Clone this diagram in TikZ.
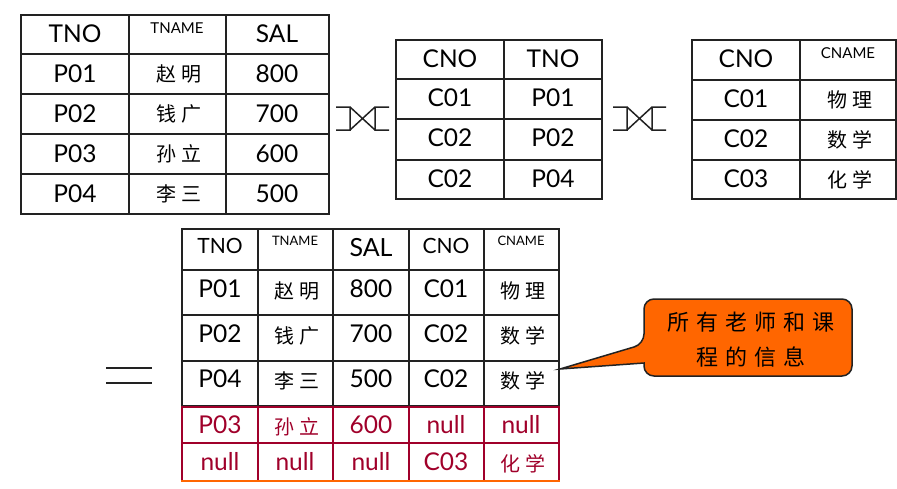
\documentclass[tikz,border=0pt]{standalone}
\usepackage{fontspec}
\setmainfont{Lato}
\newfontfamily\cjkwide[LetterSpace=25]{Noto Sans CJK SC}
\newfontfamily\cjknote[LetterSpace=32]{Noto Sans CJK SC}
\usetikzlibrary{positioning}

\definecolor{gridblack}{HTML}{222222}
\definecolor{nullred}{HTML}{A0002A}
\definecolor{noteorange}{HTML}{FF6600}

\begin{document}
\begin{tikzpicture}[x=1pt, y=-1pt,
    grid/.style={line width=2.3pt, gridblack},
    redgrid/.style={line width=2pt, nullred},
    cell/.style={font=\fontsize{24.5}{26}\selectfont, inner sep=0pt, anchor=base},
    bigcell/.style={font=\fontsize{25}{27}\selectfont, inner sep=0pt, anchor=base},
    midhead/.style={font=\fontsize{21}{23}\selectfont, inner sep=0pt, anchor=base},
    head/.style={font=\fontsize{15}{16}\selectfont, inner sep=0pt, anchor=base},
    smallhead/.style={font=\fontsize{13}{14}\selectfont, inner sep=0pt, anchor=base},
    hanzi/.style={font=\cjkwide\fontsize{20}{22}\selectfont, inner sep=0pt},
    bowtie/.pic={
        \draw[line width=1.5pt, gridblack] (0,0) -- (14,0) -- (14,23) -- (0,23)
            (14,0) -- (39,23) (14,23) -- (39,0)
            (53,0) -- (39,0) -- (39,23) -- (53,23);
    }]
\useasboundingbox (0,0) rectangle (897,488);

% Table T(TNO, TNAME, SAL)
\draw[grid] (21,15) rectangle (329,214);
\foreach \y in {54,94,134,174} \draw[grid] (21,\y) -- (329,\y);
\foreach \x in {129,226} \draw[grid] (\x,15) -- (\x,214);
\node[cell] (t-tno) at (75,42) {TNO};
\node[head] (t-tname) at (177,33) {TNAME};
\node[cell] (t-sal) at (277,42) {SAL};
\foreach \no/\name/\sal [count=\i] in {P01/赵明/800, P02/钱广/700, P03/孙立/600, P04/李三/500} {
    \node[cell] (t\i-no) at (75,42+40*\i) {\no};
    \node[hanzi] (t\i-name) at (179,34+40*\i) {\name};
    \node[cell] (t\i-sal) at (277,42+40*\i) {\sal};
}

% join symbols
\pic (join1) at (336,107) {bowtie};
\pic (join2) at (613,107) {bowtie};

% Table SC(CNO, TNO)
\draw[grid] (396,40) rectangle (602,199);
\foreach \y in {79,119,160} \draw[grid] (396,\y) -- (602,\y);
\draw[grid] (504,40) -- (504,199);
\node[cell] (sc-cno) at (450,67) {CNO};
\node[cell] (sc-tno) at (553,67) {TNO};
\foreach \cno/\tno/\y in {C01/P01/106, C02/P02/146, C02/P04/187} {
    \node[cell] (sc\y-cno) at (450,\y) {\cno};
    \node[cell] (sc\y-tno) at (553,\y) {\tno};
}

% Table C(CNO, CNAME)
\draw[grid] (692,40) rectangle (896,199);
\foreach \y in {80,120,160} \draw[grid] (692,\y) -- (896,\y);
\draw[grid] (800,40) -- (800,199);
\node[cell] (c-cno) at (746,67) {CNO};
\node[head] (c-cname) at (848,58) {CNAME};
\foreach \cno/\cname/\y in {C01/物理/100, C02/数学/140, C03/化学/180} {
    \node[cell] (c\y-cno) at (746,\y+7) {\cno};
    \node[hanzi] (c\y-cname) at (850,\y) {\cname};
}

% equals sign
\draw[line width=2pt, gridblack] (106,368) -- (152,368) (106,383) -- (152,383);

% result table
\draw[grid] (182,229) rectangle (559,406);
\foreach \y in {270,315,361} \draw[grid] (182,\y) -- (559,\y);
\foreach \x in {258,333,409,484} \draw[grid] (\x,229) -- (\x,406);
\node[midhead] (r-tno) at (220,253) {TNO};
\node[smallhead] (r-tname) at (295,245) {TNAME};
\node[bigcell] (r-sal) at (371,256) {SAL};
\node[midhead] (r-cno) at (446,253) {CNO};
\node[smallhead] (r-cname) at (521,245) {CNAME};
\foreach \no/\name/\sal/\cno/\cname/\y in {P01/赵明/800/C01/物理/297, P02/钱广/700/C02/数学/342, P04/李三/500/C02/数学/387} {
    \node[cell] (r\y-no) at (220,\y) {\no};
    \node[hanzi] (r\y-name) at (297,\y-6) {\name};
    \node[cell] (r\y-sal) at (371,\y) {\sal};
    \node[cell] (r\y-cno) at (446,\y) {\cno};
    \node[hanzi] (r\y-cname) at (523,\y-6) {\cname};
}

% dangling tuples
\draw[redgrid] (182,407) -- (559,407) (182,443) -- (559,443);
\foreach \x in {182,258,333,409,484,559} \draw[redgrid] (\x,406) -- (\x,481);
\draw[line width=2pt, noteorange] (181,481) -- (560,481);
\begin{scope}[text=nullred]
    \node[cell] (n1-no) at (220,433) {P03};
    \node[hanzi] (n1-name) at (297,427) {孙立};
    \node[cell] (n1-sal) at (371,433) {600};
    \node[cell] (n1-cno) at (446,433) {null};
    \node[cell] (n1-cname) at (521,433) {null};
    \node[cell] (n2-no) at (220,470) {null};
    \node[cell] (n2-name) at (295,470) {null};
    \node[cell] (n2-sal) at (371,470) {null};
    \node[cell] (n2-cno) at (446,470) {C03};
    \node[hanzi] (n2-cname) at (523,464) {化学};
\end{scope}

% callout
\coordinate (tip) at (560,369);
\draw[line width=1.5pt, gridblack, fill=noteorange, rounded corners=10pt]
    (748,299) -- (644,299) -- (644,344) [sharp corners] -- (tip) -- (644,363)
    [rounded corners=10pt] -- (644,376) -- (852,376) -- (852,299) -- cycle;
\node[font=\cjknote\fontsize{22}{35}\selectfont, align=center, inner sep=0pt] (note) at (751,340) {所有老师和课\\程的信息};

\end{tikzpicture}
\end{document}
